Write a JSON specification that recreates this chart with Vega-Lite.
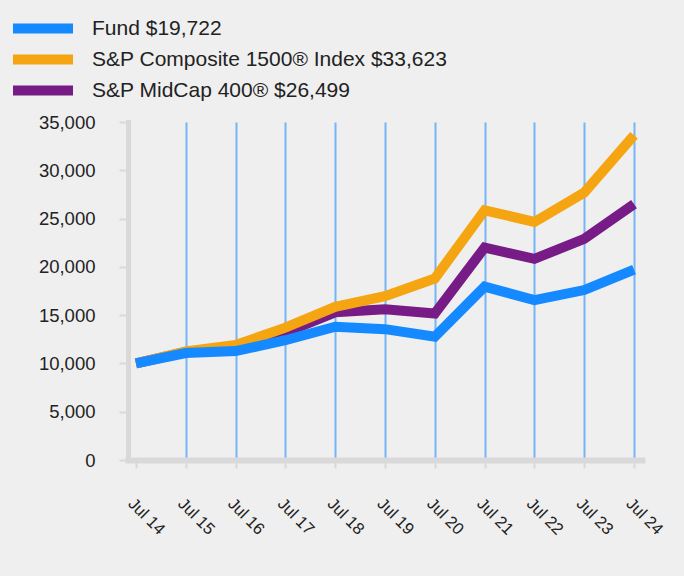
{
  "$schema": "https://vega.github.io/schema/vega-lite/v6.json",
  "width": 514,
  "height": 338,
  "autosize": {"type": "none"},
  "padding": {"left": 128, "top": 122, "right": 42, "bottom": 116},
  "background": "#efefef",
  "config": {"view": {"stroke": null}, "font": "Liberation Sans"},
  "data": {
    "values": [
      {"date": "Jul 14", "series": "S&P MidCap 400® $26,499", "value": 10000},
      {"date": "Jul 15", "series": "S&P MidCap 400® $26,499", "value": 11200},
      {"date": "Jul 16", "series": "S&P MidCap 400® $26,499", "value": 11700},
      {"date": "Jul 17", "series": "S&P MidCap 400® $26,499", "value": 13200},
      {"date": "Jul 18", "series": "S&P MidCap 400® $26,499", "value": 15300},
      {"date": "Jul 19", "series": "S&P MidCap 400® $26,499", "value": 15600},
      {"date": "Jul 20", "series": "S&P MidCap 400® $26,499", "value": 15170},
      {"date": "Jul 21", "series": "S&P MidCap 400® $26,499", "value": 22000},
      {"date": "Jul 22", "series": "S&P MidCap 400® $26,499", "value": 20830},
      {"date": "Jul 23", "series": "S&P MidCap 400® $26,499", "value": 22900},
      {"date": "Jul 24", "series": "S&P MidCap 400® $26,499", "value": 26499},
      {"date": "Jul 14", "series": "S&P Composite 1500® Index $33,623", "value": 10000},
      {"date": "Jul 15", "series": "S&P Composite 1500® Index $33,623", "value": 11250},
      {"date": "Jul 16", "series": "S&P Composite 1500® Index $33,623", "value": 11900},
      {"date": "Jul 17", "series": "S&P Composite 1500® Index $33,623", "value": 13700},
      {"date": "Jul 18", "series": "S&P Composite 1500® Index $33,623", "value": 15860},
      {"date": "Jul 19", "series": "S&P Composite 1500® Index $33,623", "value": 16970},
      {"date": "Jul 20", "series": "S&P Composite 1500® Index $33,623", "value": 18800},
      {"date": "Jul 21", "series": "S&P Composite 1500® Index $33,623", "value": 25860},
      {"date": "Jul 22", "series": "S&P Composite 1500® Index $33,623", "value": 24650},
      {"date": "Jul 23", "series": "S&P Composite 1500® Index $33,623", "value": 27700},
      {"date": "Jul 24", "series": "S&P Composite 1500® Index $33,623", "value": 33623},
      {"date": "Jul 14", "series": "Fund $19,722", "value": 10000},
      {"date": "Jul 15", "series": "Fund $19,722", "value": 11080},
      {"date": "Jul 16", "series": "Fund $19,722", "value": 11280},
      {"date": "Jul 17", "series": "Fund $19,722", "value": 12400},
      {"date": "Jul 18", "series": "Fund $19,722", "value": 13800},
      {"date": "Jul 19", "series": "Fund $19,722", "value": 13550},
      {"date": "Jul 20", "series": "Fund $19,722", "value": 12760},
      {"date": "Jul 21", "series": "Fund $19,722", "value": 17950},
      {"date": "Jul 22", "series": "Fund $19,722", "value": 16550},
      {"date": "Jul 23", "series": "Fund $19,722", "value": 17600},
      {"date": "Jul 24", "series": "Fund $19,722", "value": 19722}
    ]
  },
  "mark": {"type": "line", "strokeWidth": 10, "strokeCap": "butt", "strokeJoin": "miter"},
  "encoding": {
    "x": {
      "field": "date",
      "type": "ordinal",
      "sort": null,
      "scale": {"type": "point", "padding": 0.16},
      "axis": {
        "title": null,
        "labelAngle": 45,
        "labelFontSize": 16.5,
        "labelColor": "#222222",
        "labelPadding": 27,
        "tickSize": 8,
        "tickColor": "#d9d9d9",
        "tickWidth": 2,
        "domainColor": "#d9d9d9",
        "domainWidth": 6,
        "domainCap": "square",
        "grid": true,
        "gridColor": {"condition": {"test": "datum.value === 'Jul 14'", "value": "transparent"}, "value": "#74b5f6"},
        "gridWidth": 2
      }
    },
    "y": {
      "field": "value",
      "type": "quantitative",
      "scale": {"domain": [0, 35000], "nice": false},
      "axis": {
        "title": null,
        "values": [0, 5000, 10000, 15000, 20000, 25000, 30000, 35000],
        "format": ",.0f",
        "labelFontSize": 18.5,
        "labelColor": "#222222",
        "labelPadding": 24,
        "tickSize": 9,
        "tickColor": "#d9d9d9",
        "tickWidth": 2,
        "domainColor": "#d9d9d9",
        "domainWidth": 5,
        "domainCap": "square",
        "grid": false
      }
    },
    "color": {
      "field": "series",
      "type": "nominal",
      "scale": {
        "domain": ["Fund $19,722", "S&P Composite 1500® Index $33,623", "S&P MidCap 400® $26,499"],
        "range": ["#1589ff", "#f4a511", "#771c86"]
      },
      "legend": {
        "title": null,
        "orient": "none",
        "legendX": -120,
        "legendY": -106,
        "symbolType": "M-1,0H1",
        "symbolSize": 3600,
        "symbolStrokeWidth": 10,
        "clipHeight": 25,
        "rowPadding": 6,
        "labelFontSize": 21,
        "labelOffset": 14,
        "labelColor": "#222222",
        "labelLimit": 600
      }
    }
  }
}
